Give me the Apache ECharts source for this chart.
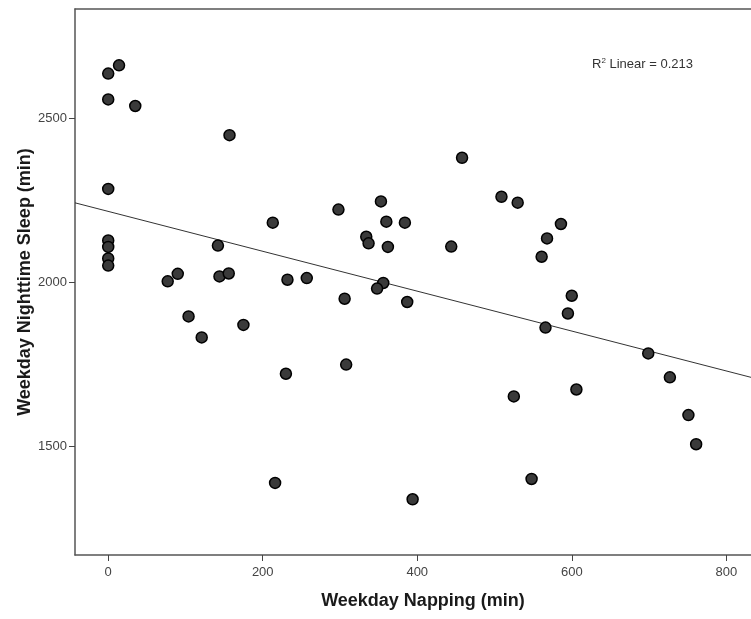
<!DOCTYPE html>
<html>
<head>
<meta charset="utf-8">
<script src="https://cdn.jsdelivr.net/npm/echarts@6/dist/echarts.min.js"></script>
<style>
  html, body { margin: 0; padding: 0; background: #fff; }
  #main { width: 751px; height: 619px; }
</style>
</head>
<body>
<div id="main"></div>
<script>
// napping minutes (x) and nighttime sleep minutes (y)
var napping = [0, 14, 0, 35, 157, 0, 0, 0, 0, 0,
  142, 77, 90, 144, 156, 104, 121, 175, 213, 458,
  509, 298, 353, 360, 384, 334, 337, 362, 444, 232,
  257, 356, 348, 306, 387, 530, 586, 568, 561, 600,
  595, 230, 308, 216, 394, 566, 699, 727, 751, 761,
  525, 606, 548];
var sleep = [2637, 2662, 2558, 2538, 2449, 2285, 2128, 2108, 2073, 2051,
  2112, 2003, 2026, 2018, 2027, 1896, 1832, 1870, 2182, 2380,
  2261, 2222, 2247, 2185, 2182, 2139, 2119, 2108, 2109, 2008,
  2013, 1998, 1981, 1950, 1940, 2243, 2178, 2134, 2078, 1959,
  1905, 1721, 1749, 1388, 1338, 1862, 1783, 1710, 1595, 1506,
  1652, 1673, 1400];
var xTicks = [0, 200, 400, 600, 800];
var yTicks = [1500, 2000, 2500];
var xRange = [-43, 832];
var yRange = [1168, 2834];
var r2Text = '0.213';

window.onload = function() {
  var chart = echarts.init(document.getElementById('main'));

  var pts = [];
  var n = napping.length, sx = 0, sy = 0, sxx = 0, sxy = 0;
  for (var i = 0; i < n; i++) {
    pts.push([napping[i], sleep[i]]);
    sx += napping[i]; sy += sleep[i];
    sxx += napping[i] * napping[i]; sxy += napping[i] * sleep[i];
  }
  // least squares fit line
  var slope = (n * sxy - sx * sy) / (n * sxx - sx * sx);
  var icpt = (sy - slope * sx) / n;
  var fit = [[xRange[0], icpt + slope * xRange[0]], [xRange[1], icpt + slope * xRange[1]]];

  var font = 'Liberation Sans, Arial, sans-serif';
  var plain = function(v) { return String(v); };
  var frame = { color: '#555', width: 1.5 };

  var option = {
    backgroundColor: '#fff',
    animation: false,
    grid: { left: 75, top: 9, right: 0, bottom: 64 },
    xAxis: [{
      type: 'value',
      min: xRange[0], max: xRange[1],
      name: 'Weekday Napping (min)',
      nameLocation: 'middle', nameGap: 37, nameMoveOverlap: false,
      nameTextStyle: { fontFamily: font, fontWeight: 'bold', fontSize: 18, color: '#1a1a1a', padding: [0, 0, 0, 20] },
      splitLine: { show: false },
      axisLine: { show: true, onZero: false, lineStyle: frame },
      axisTick: { show: true, length: 6, customValues: xTicks, lineStyle: { color: '#444' } },
      axisLabel: { customValues: xTicks, formatter: plain, margin: 11, fontFamily: font, fontSize: 13, color: '#444' }
    }, {
      // top edge of the frame only
      type: 'value', position: 'top',
      min: xRange[0], max: xRange[1],
      splitLine: { show: false },
      axisLine: { show: true, onZero: false, lineStyle: frame },
      axisTick: { show: false },
      axisLabel: { show: false }
    }],
    yAxis: {
      type: 'value',
      min: yRange[0], max: yRange[1],
      name: 'Weekday Nighttime Sleep (min)',
      nameLocation: 'middle', nameGap: 41, nameMoveOverlap: false,
      nameTextStyle: { fontFamily: font, fontWeight: 'bold', fontSize: 18, color: '#1a1a1a' },
      splitLine: { show: false },
      axisLine: { show: true, onZero: false, lineStyle: frame },
      axisTick: { show: true, length: 6, customValues: yTicks, lineStyle: { color: '#444' } },
      axisLabel: { customValues: yTicks, formatter: plain, margin: 8, fontFamily: font, fontSize: 13, color: '#444' }
    },
    graphic: [{
      type: 'text',
      left: 592, top: 57,
      style: {
        text: '{b|R}{s|2} Linear = ' + r2Text,
        rich: {
          b: { fontFamily: font, fontSize: 13, color: '#333' },
          s: { fontFamily: font, fontSize: 8, color: '#333', verticalAlign: 'top', padding: [0, 0, 6, 0] }
        },
        fontFamily: font, fontSize: 13, fill: '#333'
      }
    }],
    series: [{
      type: 'line',
      data: fit,
      symbol: 'none',
      silent: true,
      lineStyle: { color: '#333', width: 1 },
      z: 1
    }, {
      type: 'scatter',
      data: pts,
      symbol: 'circle',
      symbolSize: 11,
      itemStyle: { color: '#3a3a3a', borderColor: '#000', borderWidth: 1.5, opacity: 1 },
      z: 2
    }]
  };
  chart.setOption(option);
};
</script>
</body>
</html>
